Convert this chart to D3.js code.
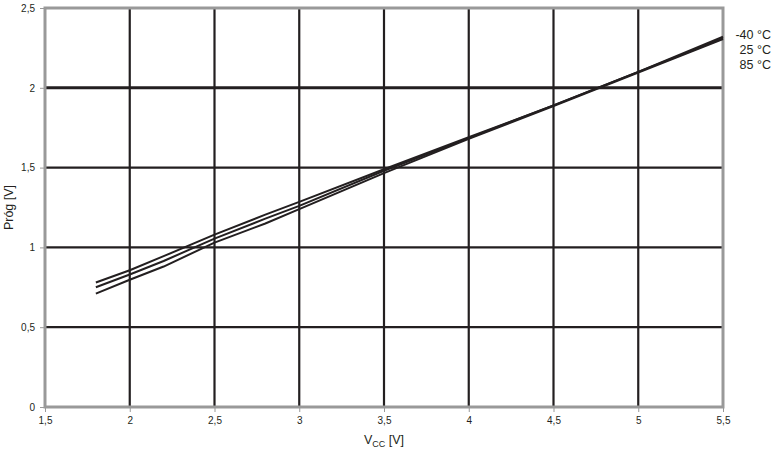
<!DOCTYPE html>
<html>
<head>
<meta charset="utf-8">
<script src="https://cdnjs.cloudflare.com/ajax/libs/d3/7.8.5/d3.min.js"></script>
<style>
  body { margin: 0; background: #fff; }
  svg { display: block; font-family: "Liberation Sans", Arial, sans-serif; }
</style>
</head>
<body>
<svg id="chart"></svg>
<script>
// supply voltage points [V]
var vcc = [1.8, 2.0, 2.2, 2.5, 2.8, 3.0, 3.5, 4.0, 4.5, 5.0, 5.5];
// threshold [V] per temperature
var progM40 = [0.78, 0.857, 0.945, 1.08, 1.205, 1.285, 1.49, 1.69, 1.89, 2.10, 2.32];
var prog25  = [0.75, 0.83, 0.915, 1.055, 1.18, 1.26, 1.48, 1.685, 1.89, 2.10, 2.31];
var prog85  = [0.71, 0.797, 0.88, 1.03, 1.15, 1.24, 1.465, 1.68, 1.885, 2.095, 2.305];
var legendLabels = ["-40 °C", "25 °C", "85 °C"];
var xTicks = [1.5, 2, 2.5, 3, 3.5, 4, 4.5, 5, 5.5];
var yTicks = [0, 0.5, 1, 1.5, 2, 2.5];

var svgWidth = 776, svgHeight = 450;
var margin = { top: 8, right: 53, bottom: 43, left: 45 };
var width = svgWidth - margin.left - margin.right;
var height = svgHeight - margin.top - margin.bottom;

var svg = d3.select("#chart")
  .attr("width", svgWidth)
  .attr("height", svgHeight);

var g = svg.append("g")
  .attr("transform", "translate(" + margin.left + "," + margin.top + ")");

var x = d3.scaleLinear().domain([1.5, 5.5]).range([0, width]);
var y = d3.scaleLinear().domain([0, 2.5]).range([height, 0]);

var fmt = function(d) { return String(d).replace(".", ","); };
var ink = "#231f20";

// grid lines
g.selectAll(".vgrid")
  .data(xTicks.slice(1, -1))
  .enter().append("line")
  .attr("x1", function(d) { return x(d); })
  .attr("x2", function(d) { return x(d); })
  .attr("y1", 0).attr("y2", height)
  .attr("stroke", ink)
  .attr("stroke-width", 2.2);

g.selectAll(".hgrid")
  .data(yTicks.slice(1, -1))
  .enter().append("line")
  .attr("y1", function(d) { return y(d); })
  .attr("y2", function(d) { return y(d); })
  .attr("x1", 0).attr("x2", width)
  .attr("stroke", ink)
  .attr("stroke-width", function(d) { return d === 2 ? 3 : 2.2; });

// axes (gray)
var xAxis = g.append("g")
  .attr("transform", "translate(0," + height + ")")
  .call(d3.axisBottom(x).tickValues(xTicks).tickFormat(fmt).tickSize(5).tickPadding(5));
var yAxis = g.append("g")
  .call(d3.axisLeft(y).tickValues(yTicks).tickFormat(fmt).tickSize(5).tickPadding(5));

[xAxis, yAxis].forEach(function(a) {
  a.select(".domain").remove();
  a.selectAll(".tick line").attr("stroke", "#999").attr("stroke-width", 1);
  a.selectAll("text").attr("fill", ink).style("font-size", "10px");
});

// frame
g.append("rect")
  .attr("x", 0).attr("y", 0)
  .attr("width", width).attr("height", height)
  .attr("fill", "none")
  .attr("stroke", "#999")
  .attr("stroke-width", 3);

// data lines
var line = d3.line()
  .x(function(d, i) { return x(vcc[i]); })
  .y(function(d) { return y(d); });

[progM40, prog25, prog85].forEach(function(s) {
  g.append("path")
    .datum(s)
    .attr("fill", "none")
    .attr("stroke", ink)
    .attr("stroke-width", 2)
    .attr("stroke-linejoin", "round")
    .attr("d", line);
});

// legend
svg.selectAll(".leg")
  .data(legendLabels)
  .enter().append("text")
  .attr("x", 771)
  .attr("y", function(d, i) { return 39 + i * 15; })
  .attr("text-anchor", "end")
  .attr("fill", ink)
  .style("font-size", "12.5px")
  .text(function(d) { return d; });

// x-axis title
var xt = svg.append("text")
  .attr("x", margin.left + x(3.5))
  .attr("y", 444)
  .attr("text-anchor", "middle")
  .attr("fill", ink)
  .style("font-size", "12.5px");
xt.append("tspan").text("V");
xt.append("tspan").attr("dy", 3).style("font-size", "9px").text("CC");
xt.append("tspan").attr("dy", -3).text(" [V]");

// y-axis title
svg.append("text")
  .attr("transform", "translate(13," + (margin.top + y(1.25)) + ") rotate(-90)")
  .attr("text-anchor", "middle")
  .attr("fill", ink)
  .style("font-size", "12.5px")
  .text("Próg [V]");
</script>
</body>
</html>
